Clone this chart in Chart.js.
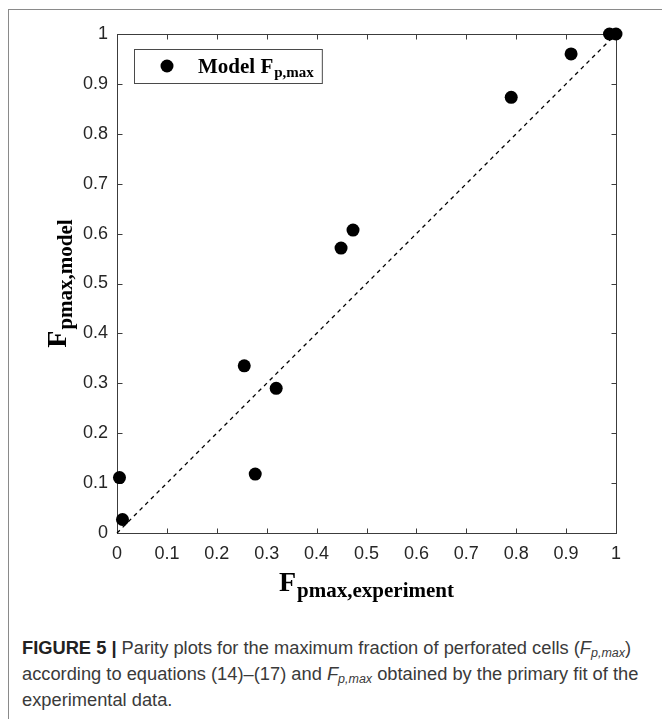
<!DOCTYPE html>
<html>
<head>
<meta charset="utf-8">
<script src="https://cdn.jsdelivr.net/npm/chart.js@4/dist/chart.umd.min.js"></script>
<style>
  html, body { margin: 0; padding: 0; background: #fff; width: 662px; height: 719px; overflow: hidden; }
  #frame { position: absolute; left: 8px; top: 9px; width: 720px; height: 780px;
           border-left: 1.5px solid #8a8a8a; border-top: 1.5px solid #8a8a8a; }
  #wrap { position: absolute; left: 0; top: 0; width: 662px; height: 620px; }
  #caption { position: absolute; left: 22px; top: 635px; white-space: nowrap;
             font-family: "Liberation Sans", Arial, sans-serif; font-size: 18.3px; line-height: 26px; color: #3a3a3a; }
  #caption b { color: #222; }
  #caption sub { font-size: 12.5px; vertical-align: -3px; line-height: 0; }
</style>
</head>
<body>
<div id="frame"></div>
<div id="wrap"><canvas id="chart" width="662" height="620"></canvas></div>
<div id="caption"><b>FIGURE 5 |</b> Parity plots for the maximum fraction of perforated cells (<i>F<sub>p,max</sub></i>)<br>according to equations (14)–(17) and <i>F<sub>p,max</sub></i> obtained by the primary fit of the<br>experimental data.</div>
<script>
// Fitted maximum fraction of perforated cells: experiment vs. model
const expX   = [0.005, 0.011, 0.255, 0.277, 0.319, 0.449, 0.473, 0.790, 0.910, 0.987, 1.000];
const modelY = [0.111, 0.027, 0.335, 0.118, 0.290, 0.571, 0.607, 0.873, 0.960, 1.000, 1.000];

// y = x reference line
const parityX = [0, 1];
const parityY = [0, 1];

const tickValues = [0, 0.1, 0.2, 0.3, 0.4, 0.5, 0.6, 0.7, 0.8, 0.9, 1];
const tickLabels = ['0', '0.1', '0.2', '0.3', '0.4', '0.5', '0.6', '0.7', '0.8', '0.9', '1'];

const legendMain = 'Model F';
const legendSub = 'p,max';
const xTitleMain = 'F', xTitleSub = 'pmax,experiment';
const yTitleMain = 'F', yTitleSub = 'pmax,model';

const AXIS_COLOR = '#3c3c3c';
const SERIF = '"Liberation Serif", "DejaVu Serif", serif';

// Draw a main string followed by a lowered subscript, starting at x
function subText(ctx, x, y, main, sub, mainPx, subPx, drop) {
  ctx.font = 'bold ' + mainPx + 'px ' + SERIF;
  const w1 = ctx.measureText(main).width;
  ctx.fillText(main, x, y);
  ctx.font = 'bold ' + subPx + 'px ' + SERIF;
  ctx.fillText(sub, x + w1 + 1, y + drop);
  return w1 + 1 + ctx.measureText(sub).width;
}
function subWidth(ctx, main, sub, mainPx, subPx) {
  ctx.font = 'bold ' + mainPx + 'px ' + SERIF;
  const w1 = ctx.measureText(main).width;
  ctx.font = 'bold ' + subPx + 'px ' + SERIF;
  return w1 + 1 + ctx.measureText(sub).width;
}

const boxPlugin = {
  id: 'matlabBox',
  beforeDatasetsDraw(chart) {
    const { ctx, chartArea: a, scales: { x, y } } = chart;
    ctx.save();
    ctx.strokeStyle = AXIS_COLOR;
    ctx.lineWidth = 1;
    const L = Math.round(a.left) + 0.5, R = Math.round(a.right) + 0.5;
    const T = Math.round(a.top) + 0.5, B = Math.round(a.bottom) + 0.5;
    ctx.strokeRect(L, T, R - L, B - T);
    ctx.beginPath();
    const tl = 5;
    tickValues.forEach(v => {
      const px = Math.round(x.getPixelForValue(v)) + 0.5;
      ctx.moveTo(px, B); ctx.lineTo(px, B - tl);
      ctx.moveTo(px, T); ctx.lineTo(px, T + tl);
      const py = Math.round(y.getPixelForValue(v)) + 0.5;
      ctx.moveTo(L, py); ctx.lineTo(L + tl, py);
      ctx.moveTo(R, py); ctx.lineTo(R - tl, py);
    });
    ctx.stroke();
    ctx.restore();
  },
  afterDraw(chart) {
    const { ctx, chartArea: a } = chart;
    ctx.save();
    ctx.fillStyle = '#000';
    ctx.textBaseline = 'alphabetic';
    ctx.textAlign = 'left';

    // x-axis title
    const wx = subWidth(ctx, xTitleMain, xTitleSub, 28, 21);
    const cx = (a.left + a.right) / 2;
    subText(ctx, cx - wx / 2, 591, xTitleMain, xTitleSub, 28, 21, 6);

    // y-axis title (rotated)
    const wy = subWidth(ctx, yTitleMain, yTitleSub, 28, 21);
    const cy = (a.top + a.bottom) / 2;
    ctx.save();
    ctx.translate(65.5, cy + wy / 2);
    ctx.rotate(-Math.PI / 2);
    subText(ctx, 0, 0, yTitleMain, yTitleSub, 28, 21, 6);
    ctx.restore();

    // legend box
    const lx = 134, ly = 49, lh = 34;
    const lw = subWidth(ctx, legendMain, legendSub, 21, 15) + 72;
    ctx.fillStyle = '#fff';
    ctx.fillRect(lx, ly, lw, lh);
    ctx.strokeStyle = '#4a4a4a';
    ctx.lineWidth = 1;
    ctx.strokeRect(lx + 0.5, ly + 0.5, lw, lh);
    ctx.fillStyle = '#000';
    ctx.beginPath();
    ctx.arc(lx + 33, ly + lh / 2, 6.5, 0, Math.PI * 2);
    ctx.fill();
    subText(ctx, lx + 64, ly + 24, legendMain, legendSub, 21, 15, 4);
    ctx.restore();
  }
};

const axisFont = { family: '"Liberation Sans", Arial, sans-serif', size: 18 };

new Chart(document.getElementById('chart'), {
  type: 'scatter',
  data: {
    datasets: [
      {
        label: 'parity',
        type: 'line',
        data: parityX.map((v, i) => ({ x: v, y: parityY[i] })),
        borderColor: '#000',
        borderWidth: 1.3,
        borderDash: [4, 4],
        pointRadius: 0,
        fill: false,
        clip: false,
        order: 2
      },
      {
        label: legendMain + legendSub,
        data: expX.map((v, i) => ({ x: v, y: modelY[i] })),
        backgroundColor: '#000',
        borderWidth: 0,
        pointRadius: 6.5,
        pointHoverRadius: 6.5,
        clip: false,
        order: 1
      }
    ]
  },
  options: {
    responsive: false,
    animation: false,
    events: [],
    layout: { padding: { left: 0, top: 34, right: 46, bottom: 37 } },
    plugins: { legend: { display: false }, tooltip: { enabled: false } },
    scales: {
      x: {
        type: 'linear', min: 0, max: 1,
        afterBuildTicks: s => { s.ticks = tickValues.map(v => ({ value: v })); },
        afterFit: s => { s.height = 50; },
        grid: { display: false, drawTicks: false },
        border: { display: false },
        ticks: { color: '#262626', font: axisFont, padding: 10, maxRotation: 0,
                 callback: (v, i) => tickLabels[i] }
      },
      y: {
        type: 'linear', min: 0, max: 1,
        afterBuildTicks: s => { s.ticks = tickValues.map(v => ({ value: v })); },
        afterFit: s => { s.width = 117; },
        grid: { display: false, drawTicks: false },
        border: { display: false },
        ticks: { color: '#262626', font: axisFont, padding: 9,
                 callback: (v, i) => tickLabels[i] }
      }
    }
  },
  plugins: [boxPlugin]
});
</script>
</body>
</html>
